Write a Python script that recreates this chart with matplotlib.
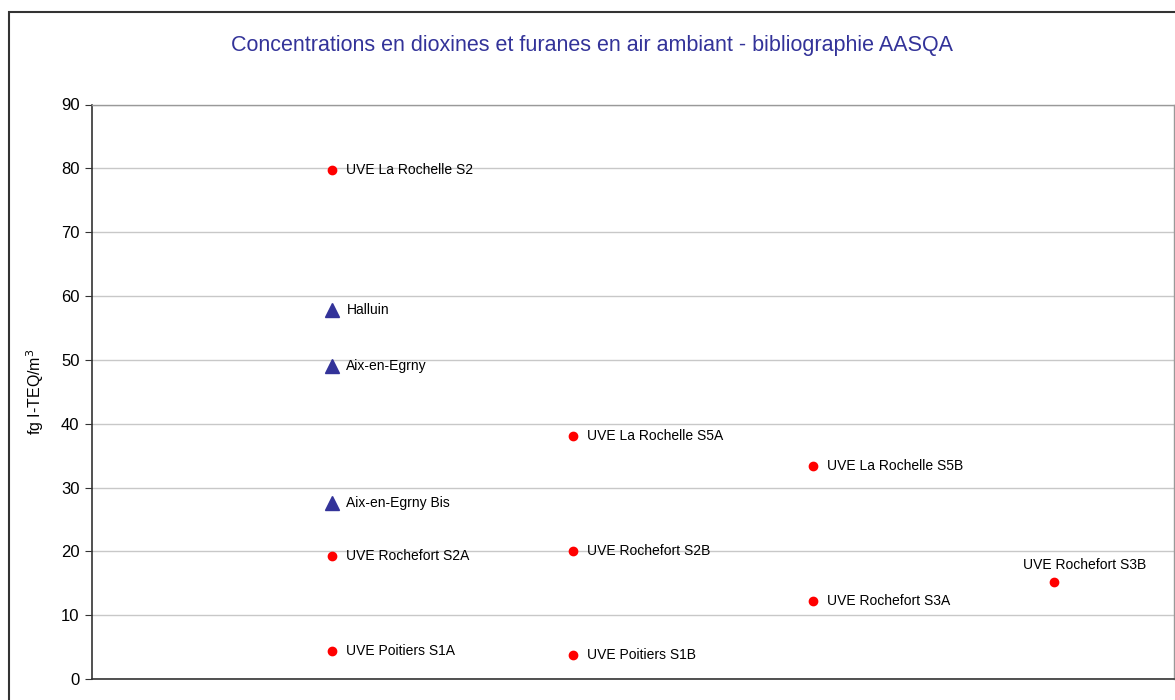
import matplotlib
matplotlib.use('Agg')
import matplotlib.pyplot as plt
from matplotlib.patches import Rectangle

plt.rcParams['font.family'] = ['Liberation Sans', 'DejaVu Sans']

# red dots (UVE sites)
uve_names = ['UVE La Rochelle S2', 'UVE Rochefort S2A', 'UVE Poitiers S1A',
             'UVE La Rochelle S5A', 'UVE Rochefort S2B', 'UVE Poitiers S1B',
             'UVE La Rochelle S5B', 'UVE Rochefort S3A', 'UVE Rochefort S3B']
uve_x = [1, 1, 1, 2, 2, 2, 3, 3, 4]
uve_y = [79.8, 19.3, 4.4, 38.1, 20.1, 3.8, 33.4, 12.2, 15.2]

# blue triangles
tri_names = ['Halluin', 'Aix-en-Egrny', 'Aix-en-Egrny Bis']
tri_x = [1, 1, 1]
tri_y = [57.8, 49.0, 27.6]

title = 'Concentrations en dioxines et furanes en air ambiant - bibliographie AASQA'
yticks = list(range(0, 100, 10))

fig = plt.figure(figsize=(11.75, 7), dpi=100)
ax = fig.add_axes([92 / 1175, 21 / 700, 1082 / 1175, 574.5 / 700])

# outer chart frame (runs off the right and bottom edges)
fig.patches.append(Rectangle((9 / 1175, -0.1), 1.2, 688 / 700 + 0.1,
                             transform=fig.transFigure, fill=False,
                             edgecolor='#333333', linewidth=1.5, clip_on=False))

ax.grid(axis='y', color='#c8c8c8', linewidth=1)
ax.set_axisbelow(True)

ax.plot(uve_x, uve_y, 'o', color='#ff0000', markersize=6, linestyle='none')
ax.plot(tri_x, tri_y, '^', color='#333399', markersize=10, linestyle='none')

for n, x, y in zip(uve_names, uve_x, uve_y):
    if n == 'UVE Rochefort S3B':
        ax.annotate(n, (x, y), xytext=(31, 17), textcoords='offset pixels',
                    ha='center', va='center', fontsize=10, color='#000000')
    else:
        ax.annotate(n, (x, y), xytext=(14, 0), textcoords='offset pixels',
                    ha='left', va='center', fontsize=10, color='#000000')
for n, x, y in zip(tri_names, tri_x, tri_y):
    ax.annotate(n, (x, y), xytext=(14, 0), textcoords='offset pixels',
                ha='left', va='center', fontsize=10, color='#000000')

ax.set_xlim(0, 4.5)
ax.set_ylim(0, 90)
ax.set_yticks(yticks)
ax.set_xticks([])
ax.tick_params(axis='y', labelsize=12, length=5, color='#333333', pad=4)
for s in ['left', 'bottom']:
    ax.spines[s].set_color('#333333')
    ax.spines[s].set_linewidth(1.2)
for s in ['top', 'right']:
    ax.spines[s].set_color('#999999')
    ax.spines[s].set_linewidth(1)

ax.set_ylabel('fg I-TEQ/m$^3$', fontsize=11.5, labelpad=11)
fig.text(592 / 1175, 1 - 46 / 700, title, ha='center', va='center',
         fontsize=15.5, color='#333399')

fig.savefig('out.png', dpi=100)
